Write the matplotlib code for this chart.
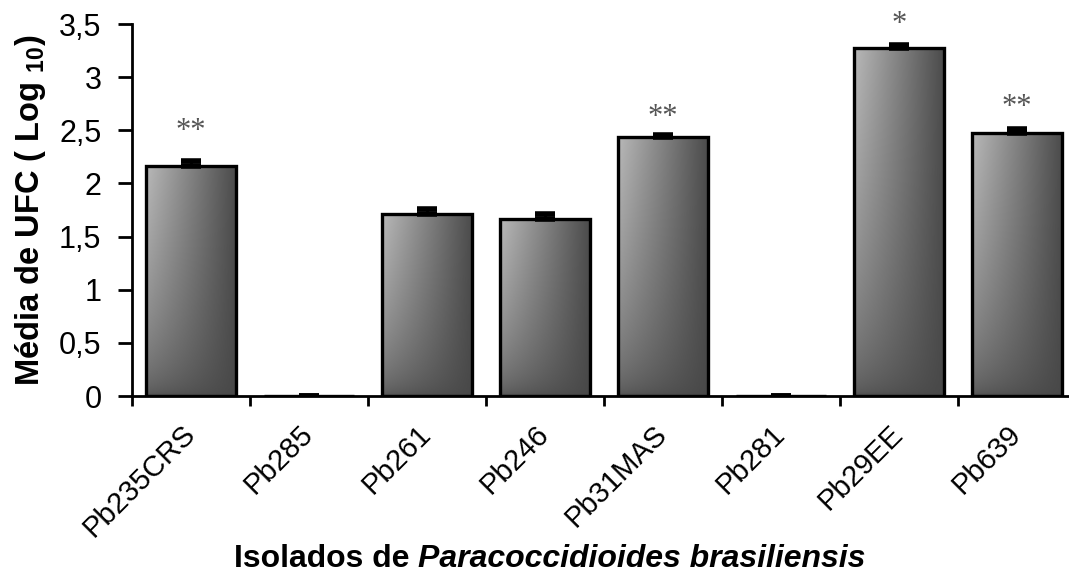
import numpy as np
import matplotlib
matplotlib.use("Agg")
import matplotlib.pyplot as plt
from matplotlib.colors import LinearSegmentedColormap

# Data: mean CFU (log10) per isolate
isolates = ["Pb235CRS", "Pb285", "Pb261", "Pb246", "Pb31MAS", "Pb281", "Pb29EE", "Pb639"]
means = [2.16, 0.0, 1.71, 1.665, 2.44, 0.0, 3.27, 2.47]
errors = [0.05, 0.0, 0.05, 0.05, 0.02, 0.0, 0.03, 0.045]
marks = ["**", "", "", "", "**", "", "*", "**"]
mark_levels = [2.52, 0, 0, 0, 2.65, 0, 3.53, 2.75]
yticks = [0, 0.5, 1, 1.5, 2, 2.5, 3, 3.5]
ytick_labels = ["0", "0,5", "1", "1,5", "2", "2,5", "3", "3,5"]

plt.rcParams["font.family"] = ["Liberation Sans", "DejaVu Sans"]
plt.rcParams["mathtext.fontset"] = "custom"
plt.rcParams["mathtext.rm"] = "Liberation Sans:bold"
plt.rcParams["mathtext.it"] = "Liberation Sans:bold:italic"
plt.rcParams["mathtext.bf"] = "Liberation Sans:bold"

W, H = 1069, 572
fig = plt.figure(figsize=(W / 100, H / 100), dpi=100)
ax_left, ax_right = 132, 132 + 8 * 118
ax_bottom, ax_top = 396, 24
ax = fig.add_axes([ax_left / W, (H - ax_bottom) / H,
                   (ax_right - ax_left) / W, (ax_bottom - ax_top) / H])

x = np.arange(len(isolates))
bar_w = 0.76
bars = ax.bar(x, means, width=bar_w, facecolor="none", edgecolor="black",
              linewidth=2.4, zorder=3)

# shaded fill: light on the left, dark on the right, darker toward the base
cmap = LinearSegmentedColormap.from_list("shade", ["#2e2e2e", "#c4c4c4"])
nx, ny = 120, 120
u = np.linspace(0, 1, nx)
top_profile = 0.92 - 0.72 * u
base_level = 0.17 + 0.06 * (1 - u)
t = np.linspace(0, 1, ny)[:, None]
shade = base_level[None, :] + (top_profile - base_level)[None, :] * (t ** 0.5)
for xi, h, b in zip(x, means, bars):
    if h <= 0:
        continue
    im = ax.imshow(shade, cmap=cmap, vmin=0, vmax=1, origin="lower",
                   extent=[xi - bar_w / 2, xi + bar_w / 2, 0, h],
                   aspect="auto", interpolation="bilinear", zorder=2)
    im.set_clip_path(b)

ax.errorbar(x, means, yerr=[np.zeros(len(errors)), errors], fmt="none",
            ecolor="black", elinewidth=2, capsize=7, capthick=4, zorder=4)

for xi, lvl, m in zip(x, mark_levels, marks):
    if m:
        ax.text(xi, lvl, m, ha="center", va="center_baseline",
                fontsize=22, color="#555555", family="Liberation Serif")

ax.set_xlim(-0.5, 7.5)
ax.set_ylim(0, 3.5)
ax.set_yticks(yticks)
ax.set_yticklabels(ytick_labels, fontsize=22)
ax.set_xticks(x)
ax.set_xticklabels(isolates, rotation=45, ha="right", va="center",
                   rotation_mode="anchor", fontsize=21)
ax.set_xticks(np.arange(-0.5, 8.0, 1.0), minor=True)
ax.tick_params(axis="x", which="major", length=0, pad=24)
ax.tick_params(axis="x", which="minor", length=7, width=2)
ax.tick_params(axis="y", length=10, width=2, pad=12)
for s in ("top", "right"):
    ax.spines[s].set_visible(False)
for s in ("left", "bottom"):
    ax.spines[s].set_linewidth(2)
ax.spines["bottom"].set_zorder(5)

ax.set_ylabel(r"Média de UFC ( Log $_{10}$)", fontsize=23.5, fontweight="bold",
              labelpad=8)

# x label with italic species name
fig.canvas.draw()
renderer = fig.canvas.get_renderer()
pieces = [("Isolados de ", "normal"), ("Paracoccidioides brasiliensis", "italic")]
texts = []
for s, st in pieces:
    texts.append(fig.text(0, 0, s, fontsize=23, fontweight="bold", style=st,
                          ha="left", va="baseline"))
widths = [tx.get_window_extent(renderer).width for tx in texts]
total = sum(widths)
xc = 550
xs = xc - total / 2
for tx, w in zip(texts, widths):
    tx.set_position((xs / W, 5 / H))
    xs += w

fig.savefig("out.png", dpi=100)
